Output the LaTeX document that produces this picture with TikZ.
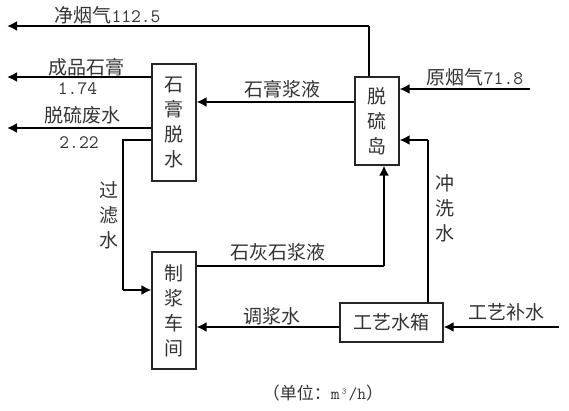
\documentclass[tikz,border=0pt]{standalone}
\usepackage{fontspec}
\newfontfamily\cjk{Noto Sans CJK SC}
\usetikzlibrary{arrows.meta}
\tikzset{
  box/.style={draw=black!85, line width=1.1pt, minimum width=44pt, inner sep=0pt},
  vtxt/.style={align=center, font=\cjk\fontsize{19}{25}\selectfont, text=black!80},
  lbl/.style={inner sep=0pt, font=\cjk\fontsize{19}{25}\selectfont, text=black!80},
  thk/.style={line width=2.4pt, -{Latex[length=10pt,width=10pt]}},
  thn/.style={line width=1.1pt},
}
\newcommand{\nm}[1]{{\ttfamily\fontsize{19}{20}\selectfont #1}}
\begin{document}
\begin{tikzpicture}[x=1pt,y=-1pt]
\useasboundingbox (0,0) rectangle (569,411);
% boxes
\node[box, vtxt, minimum height=117pt] (gyp) at (174,122.5) {石\\膏\\脱\\水};
\node[box, vtxt, minimum height=88pt] (isl) at (377,121) {脱\\硫\\岛};
\node[box, vtxt, minimum height=117pt] (sly) at (174,310.5) {制\\浆\\车\\间};
\node[box, lbl, minimum width=103pt, minimum height=39pt] (tank) at (391.5,322.5) {工艺水箱};
% free ends and bends
\coordinate (clean) at (7,26);
\coordinate (cleanup) at (369,26);
\coordinate (prod) at (7,77);
\coordinate (waste) at (7,128);
\coordinate (raw) at (530,89);
\coordinate (make) at (559,327);
\coordinate (f1) at (123,140);
\coordinate (f2) at (123,290);
\coordinate (w1) at (428,140);
\coordinate (l1) at (384,266);
% connectors
\draw[thn] (isl.north -| cleanup) -- (cleanup);
\draw[thk] (cleanup) -- (clean);
\draw[thk] (gyp.west |- prod) -- (prod);
\draw[thk] (gyp.west |- waste) -- (waste);
\draw[thk] (isl.west |- 0,102) -- (gyp.east |- 0,102);
\draw[thk] (raw) -- (isl.east |- raw);
\draw[thn] (gyp.west |- f1) -- (f1) -- (f2);
\draw[thk] (f2) -- (sly.west |- f2);
\draw[thn] (tank.north -| w1) -- (w1);
\draw[thk] (w1) -- (isl.east |- w1);
\draw[thn] (sly.east |- l1) -- (l1);
\draw[thk] (l1) -- (isl.south -| l1);
\draw[thk] (tank.west |- 0,327) -- (sly.east |- 0,327);
\draw[thk] (make) -- (tank.east |- make);
% labels
\node[lbl] (t1) at (107.5,15) {净烟气\nm{112.5}};
\node[lbl] (t2) at (86,67) {成品石膏};
\node[lbl] (t3) at (77.5,89) {\nm{1.74}};
\node[lbl] (t4) at (82.5,115) {脱硫废水};
\node[lbl] (t5) at (79,143) {\nm{2.22}};
\node[lbl] (t6) at (282.5,89) {石膏浆液};
\node[lbl] (t7) at (475,77) {原烟气\nm{71.8}};
\node[vtxt] (t8) at (109,215) {过\\滤\\水};
\node[vtxt] (t9) at (445,208) {冲\\洗\\水};
\node[lbl] (t10) at (278,252) {石灰石浆液};
\node[lbl] (t11) at (271.5,316) {调浆水};
\node[lbl] (t12) at (506,312) {工艺补水};
\node[lbl, font=\cjk\fontsize{17}{20}\selectfont] (t13) at (323,393) {（单位：{\ttfamily\fontsize{17}{20}\selectfont m³/h}）};
\end{tikzpicture}
\end{document}
